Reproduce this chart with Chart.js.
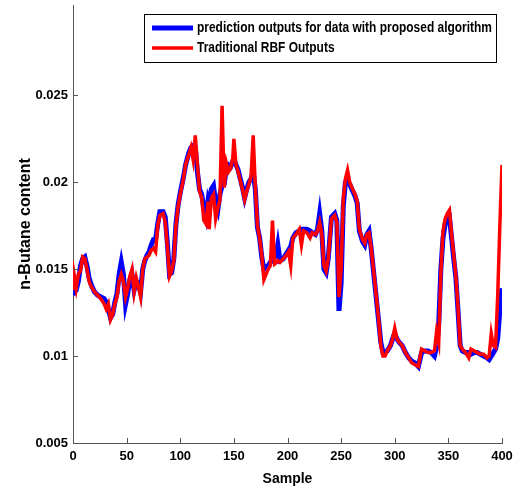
<!DOCTYPE html>
<html>
<head>
<meta charset="utf-8">
<script src="https://cdn.jsdelivr.net/npm/chart.js@4"></script>
<style>
html, body { margin: 0; padding: 0; background: #fff; }
</style>
</head>
<body>
<canvas id="chart" width="523" height="488"></canvas>
<script>
// sample index
const samples = [0,1,3,5,7,9,11,13,15,17,20,23,26,29,31,33,35,37,39,41,43,45,47,49,51,53,55,57,59,61,63,65,67,69,71,73,75,77,79,81,84,86,88,90,92,94,96,98,100,103,105,108,110,112,114,116,118,120,122,124,126,127,129,131,133,135,137,139,141,143,145,147,149,150,152,154,156,158,160,162,164,166,168,170,172,174,176,178,180,182,184,186,188,190,191,193,196,199,201,203,205,208,211,213,215,218,221,223,226,228,230,232,234,236,238,241,244,246,248,250,252,254,256,258,260,263,265,267,270,272,274,276,278,280,283,285,287,289,291,293,296,298,300,302,304,307,310,313,316,319,322,325,328,331,334,337,339,341,343,345,347,349,351,353,355,357,359,361,363,366,369,371,374,377,380,383,386,388,390,392,394,396,398,400];

// blue line: proposed algorithm
const proposedOutputs = [0.0135,0.0137,0.0138,0.0143,0.0152,0.0156,0.0157,0.0152,0.0145,0.0141,0.0137,0.0135,0.0134,0.0133,0.0131,0.0127,0.0122,0.0124,0.0131,0.0136,0.0147,0.0154,0.0147,0.0130,0.0136,0.0144,0.0147,0.0138,0.0143,0.0142,0.0137,0.0150,0.0155,0.0158,0.0160,0.0164,0.0167,0.0167,0.0176,0.0183,0.0183,0.0180,0.0165,0.0147,0.0148,0.0156,0.0176,0.0187,0.0194,0.0203,0.0210,0.0217,0.0220,0.0221,0.0220,0.0206,0.0196,0.0193,0.0185,0.0180,0.0190,0.0188,0.0196,0.0198,0.0188,0.0184,0.0193,0.0198,0.0199,0.0208,0.0210,0.0209,0.0212,0.0213,0.0210,0.0207,0.0202,0.0197,0.0191,0.0196,0.0200,0.0202,0.0206,0.0196,0.0174,0.0168,0.0157,0.0150,0.0151,0.0152,0.0154,0.0155,0.0157,0.0160,0.0164,0.0155,0.0156,0.0159,0.0161,0.0163,0.0168,0.0171,0.0172,0.0173,0.0173,0.0173,0.0172,0.0171,0.0170,0.0173,0.0182,0.0172,0.0150,0.0148,0.0156,0.0180,0.0182,0.0178,0.0126,0.0142,0.0186,0.0200,0.0201,0.0199,0.0196,0.0192,0.0188,0.0172,0.0166,0.0164,0.0170,0.0172,0.0162,0.0150,0.0132,0.0120,0.0108,0.0102,0.0102,0.0103,0.0106,0.0110,0.0113,0.0110,0.0108,0.0106,0.0102,0.0099,0.0097,0.0096,0.0094,0.0102,0.0103,0.0103,0.0102,0.0100,0.0105,0.0118,0.0150,0.0168,0.0176,0.0179,0.0180,0.0168,0.0156,0.0145,0.0126,0.0106,0.0103,0.0102,0.0102,0.0101,0.0102,0.0102,0.0101,0.0100,0.0099,0.0098,0.0100,0.0102,0.0104,0.0110,0.0127,0.0139];

// red line: traditional RBF
const rbfOutputs = [0.0138,0.0147,0.0139,0.0147,0.0149,0.0157,0.0156,0.0150,0.0143,0.0140,0.0137,0.0135,0.0133,0.0130,0.0127,0.0130,0.0121,0.0124,0.0130,0.0134,0.0143,0.0147,0.0143,0.0134,0.0139,0.0146,0.0150,0.0137,0.0145,0.0140,0.0134,0.0150,0.0156,0.0157,0.0158,0.0161,0.0162,0.0160,0.0175,0.0181,0.0182,0.0177,0.0163,0.0146,0.0149,0.0155,0.0175,0.0186,0.0193,0.0202,0.0210,0.0216,0.0220,0.0213,0.0227,0.0210,0.0195,0.0191,0.0178,0.0176,0.0189,0.0173,0.0191,0.0193,0.0179,0.0185,0.0190,0.0244,0.0197,0.0211,0.0206,0.0208,0.0214,0.0225,0.0210,0.0206,0.0201,0.0196,0.0190,0.0195,0.0199,0.0203,0.0227,0.0197,0.0175,0.0168,0.0158,0.0144,0.0147,0.0150,0.0152,0.0178,0.0153,0.0154,0.0155,0.0154,0.0156,0.0158,0.0160,0.0152,0.0168,0.0170,0.0173,0.0164,0.0172,0.0171,0.0168,0.0171,0.0170,0.0172,0.0177,0.0170,0.0152,0.0149,0.0156,0.0179,0.0181,0.0177,0.0134,0.0150,0.0190,0.0202,0.0207,0.0200,0.0197,0.0193,0.0189,0.0173,0.0167,0.0165,0.0170,0.0171,0.0162,0.0151,0.0133,0.0121,0.0106,0.0100,0.0100,0.0103,0.0106,0.0110,0.0116,0.0110,0.0108,0.0106,0.0102,0.0099,0.0096,0.0095,0.0094,0.0104,0.0103,0.0102,0.0102,0.0103,0.0114,0.0108,0.0148,0.0172,0.0179,0.0182,0.0184,0.0170,0.0158,0.0146,0.0128,0.0106,0.0104,0.0102,0.0099,0.0104,0.0103,0.0102,0.0101,0.0101,0.0099,0.0100,0.0113,0.0106,0.0105,0.0135,0.0175,0.0210];

const seriesLabels = ['prediction outputs for data with proposed algorithm', 'Traditional RBF Outputs'];
const xTicks = [0, 50, 100, 150, 200, 250, 300, 350, 400];
const yTicks = [0.005, 0.01, 0.015, 0.02, 0.025];

const fontFamily = "'Liberation Sans', Arial, sans-serif";
const tickFont = { family: fontFamily, size: 13, weight: 'bold' };

// MATLAB style ticks pointing into the plot
const innerTicks = {
    id: 'innerTicks',
    afterDraw(chart) {
        const { ctx, chartArea, scales } = chart;
        ctx.save();
        ctx.strokeStyle = '#555';
        ctx.lineWidth = 1;
        ctx.beginPath();
        xTicks.forEach(v => {
            const x = Math.round(scales.x.getPixelForValue(v)) + 0.5;
            ctx.moveTo(x, chartArea.bottom);
            ctx.lineTo(x, chartArea.bottom - 5);
        });
        yTicks.forEach(v => {
            const y = Math.round(scales.y.getPixelForValue(v)) + 0.5;
            ctx.moveTo(chartArea.left, y);
            ctx.lineTo(chartArea.left + 5, y);
        });
        ctx.stroke();
        ctx.restore();
    }
};

// boxed legend inside the plot, top right; text squeezed like Arial Narrow
const boxLegend = {
    id: 'boxLegend',
    afterDraw(chart) {
        const { ctx, chartArea } = chart;
        const left = chartArea.left + 71;
        const top = chartArea.top + 9;
        const w = 352, h = 48;
        ctx.save();
        ctx.fillStyle = '#fff';
        ctx.fillRect(left, top, w, h);
        ctx.strokeStyle = '#000';
        ctx.lineWidth = 1;
        ctx.strokeRect(left + 0.5, top + 0.5, w, h);
        ctx.font = 'bold 15px ' + fontFamily;
        ctx.textBaseline = 'middle';
        const squeeze = 295 / ctx.measureText(chart.data.datasets[0].label).width;
        chart.data.datasets.forEach((ds, i) => {
            const y = top + 14 + i * 20;
            ctx.strokeStyle = ds.borderColor;
            ctx.lineWidth = ds.borderWidth;
            ctx.beginPath();
            ctx.moveTo(left + 8, y);
            ctx.lineTo(left + 49, y);
            ctx.stroke();
            ctx.save();
            ctx.translate(left + 53, y);
            ctx.scale(squeeze, 1);
            ctx.fillStyle = '#000';
            ctx.fillText(ds.label, 0, 0);
            ctx.restore();
        });
        ctx.restore();
    }
};

const ctx = document.getElementById('chart').getContext('2d');
new Chart(ctx, {
    type: 'line',
    data: {
        datasets: [{
            label: seriesLabels[0],
            data: samples.map((s, i) => ({ x: s, y: proposedOutputs[i] })),
            borderColor: '#0000ff',
            borderWidth: 5,
            pointRadius: 0,
            tension: 0,
            order: 1
        }, {
            label: seriesLabels[1],
            data: samples.map((s, i) => ({ x: s, y: rbfOutputs[i] })),
            borderColor: '#ff0000',
            borderWidth: 3.5,
            pointRadius: 0,
            tension: 0,
            order: 0
        }]
    },
    options: {
        responsive: false,
        animation: false,
        devicePixelRatio: 1,
        layout: { padding: { top: 5, right: 21, left: 0, bottom: 0 } },
        plugins: {
            legend: { display: false },
            tooltip: { enabled: false }
        },
        scales: {
            x: {
                type: 'linear',
                min: 0,
                max: 400,
                afterBuildTicks: axis => { axis.ticks = xTicks.map(v => ({ value: v })); },
                afterFit: axis => { axis.height = 45; axis.paddingLeft = 0; axis.paddingRight = 0; },
                grid: { display: true, drawOnChartArea: false, drawTicks: false },
                border: { display: true, color: '#555' },
                ticks: { color: '#000', font: tickFont, padding: 6, maxRotation: 0 },
                title: { display: true, text: 'Sample', color: '#000', font: { family: fontFamily, size: 14, weight: 'bold', lineHeight: 1 }, padding: { top: 0, bottom: 2 } }
            },
            y: {
                min: 0.005,
                max: 0.0302,
                afterBuildTicks: axis => { axis.ticks = yTicks.map(v => ({ value: v })); },
                afterFit: axis => { axis.width = 73; axis.paddingTop = 0; axis.paddingBottom = 0; },
                grid: { display: true, drawOnChartArea: false, drawTicks: false },
                border: { display: true, color: '#555' },
                ticks: { color: '#000', font: tickFont, padding: 5, callback: v => String(v) },
                title: { display: true, text: 'n-Butane content', color: '#000', font: { family: fontFamily, size: 16, weight: 'bold', lineHeight: 1 }, padding: { top: 18, bottom: 0 } }
            }
        }
    },
    plugins: [innerTicks, boxLegend]
});
</script>
</body>
</html>
